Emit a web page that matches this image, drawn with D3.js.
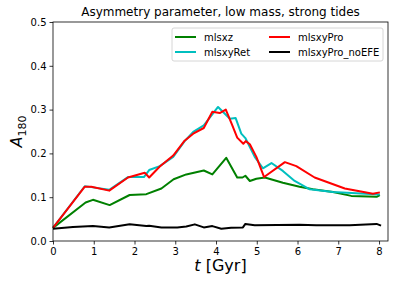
<!DOCTYPE html>
<html>
<head>
<meta charset="utf-8">
<script src="https://cdn.jsdelivr.net/npm/d3@7"></script>
<style>
  body { margin: 0; background: #fff; }
  text { font-family: "DejaVu Sans", sans-serif; fill: #000; }
</style>
</head>
<body>
<div id="chart"></div>
<script>
// values
var xzT = [0, 0.80, 0.98, 1.39, 1.88, 2.29, 2.66, 2.96, 3.27, 3.70, 3.91, 4.25, 4.52, 4.65, 4.72, 4.83, 4.99, 5.20, 5.64, 6.05, 6.38, 6.87, 7.32, 7.94, 8.02];
var xzA = [0.030, 0.088, 0.094, 0.082, 0.105, 0.107, 0.120, 0.141, 0.152, 0.161, 0.152, 0.190, 0.145, 0.145, 0.149, 0.137, 0.142, 0.145, 0.133, 0.124, 0.118, 0.112, 0.103, 0.101, 0.105];

var retT = [0, 0.78, 0.94, 1.38, 1.84, 2.23, 2.36, 2.62, 2.95, 3.23, 3.44, 3.70, 4.05, 4.34, 4.48, 4.62, 4.72, 4.95, 5.15, 5.36, 5.64, 5.93, 6.30, 6.87, 7.44, 8.02];
var retA = [0.030, 0.125, 0.123, 0.117, 0.146, 0.146, 0.162, 0.171, 0.192, 0.228, 0.249, 0.264, 0.306, 0.279, 0.281, 0.245, 0.235, 0.192, 0.166, 0.178, 0.160, 0.137, 0.118, 0.112, 0.109, 0.106];

var proT = [0, 0.78, 0.94, 1.38, 1.84, 2.25, 2.36, 2.62, 2.95, 3.23, 3.44, 3.70, 3.91, 4.09, 4.24, 4.39, 4.52, 4.67, 4.73, 4.83, 4.99, 5.18, 5.69, 5.97, 6.42, 7.16, 7.85, 8.02];
var proA = [0.030, 0.124, 0.124, 0.115, 0.145, 0.156, 0.145, 0.170, 0.195, 0.229, 0.245, 0.258, 0.295, 0.292, 0.300, 0.266, 0.236, 0.222, 0.228, 0.221, 0.192, 0.146, 0.180, 0.171, 0.145, 0.120, 0.108, 0.111];

var noEfeT = [0, 0.49, 0.98, 1.38, 1.88, 2.29, 2.36, 2.66, 3.05, 3.27, 3.48, 3.70, 3.91, 4.13, 4.37, 4.66, 4.72, 4.95, 6.05, 6.46, 7.28, 7.94, 8.05];
var noEfeA = [0.028, 0.032, 0.034, 0.031, 0.038, 0.034, 0.035, 0.031, 0.031, 0.033, 0.038, 0.031, 0.034, 0.028, 0.030, 0.031, 0.039, 0.036, 0.037, 0.036, 0.036, 0.039, 0.035];

var seriesNames = ["mlsxz", "mlsxyRet", "mlsxyPro", "mlsxyPro_noEFE"];
var seriesColors = ["#008000", "#00bfbf", "#ff0000", "#000000"];
var xTicks = [0, 1, 2, 3, 4, 5, 6, 7, 8];
var yTicks = [0.0, 0.1, 0.2, 0.3, 0.4, 0.5];

var W = 398, H = 287;
var margin = {top: 22, right: 10, bottom: 46, left: 53};
var width = W - margin.left - margin.right,
    height = H - margin.top - margin.bottom;

var svg = d3.select("#chart").append("svg")
    .attr("width", W).attr("height", H);
var g = svg.append("g")
    .attr("transform", "translate(" + margin.left + "," + margin.top + ")");

var x = d3.scaleLinear().domain([0, 8.22]).range([0, width]);
var y = d3.scaleLinear().domain([0, 0.5]).range([height, 0]);

// axes
var xAxis = g.append("g")
    .attr("transform", "translate(0," + height + ")")
    .call(d3.axisBottom(x).tickValues(xTicks).tickFormat(d3.format("d")).tickSizeOuter(0).tickSize(3.5).tickPadding(3));
var yAxis = g.append("g")
    .call(d3.axisLeft(y).tickValues(yTicks).tickFormat(d3.format(".1f")).tickSizeOuter(0).tickSize(3.5).tickPadding(3));
[xAxis, yAxis].forEach(function(a) {
  a.select(".domain").remove();
  a.selectAll("text").style("font-size", "10px").style("font-family", "DejaVu Sans").attr("fill", "#000");
  a.selectAll("line").attr("stroke", "#000").attr("stroke-width", 0.8);
});

// lines
var sets = [[xzT, xzA], [retT, retA], [proT, proA], [noEfeT, noEfeA]];
var line = d3.line().x(function(d) { return x(d[0]); }).y(function(d) { return y(d[1]); });
sets.forEach(function(s, i) {
  var pts = s[0].map(function(t, j) { return [t, s[1][j]]; });
  g.append("path")
    .datum(pts)
    .attr("d", line)
    .attr("fill", "none")
    .attr("stroke", seriesColors[i])
    .attr("stroke-width", 2)
    .attr("stroke-linejoin", "round");
});

// frame
g.append("rect")
  .attr("width", width).attr("height", height)
  .attr("fill", "none").attr("stroke", "#000").attr("stroke-width", 0.8);

// title
svg.append("text")
  .attr("x", margin.left + width / 2).attr("y", 16)
  .attr("text-anchor", "middle")
  .style("font-size", "12px")
  .text("Asymmetry parameter, low mass, strong tides");

// x label
var xl = svg.append("text")
  .attr("x", margin.left + width / 2).attr("y", 271)
  .attr("text-anchor", "middle")
  .style("font-size", "16px");
xl.append("tspan").style("font-style", "italic").text("t");
xl.append("tspan").text(" [Gyr]");

// y label
var yl = svg.append("text")
  .attr("transform", "translate(22," + (margin.top + height / 2) + ") rotate(-90)")
  .attr("text-anchor", "middle")
  .style("font-size", "16px");
yl.append("tspan").style("font-style", "italic").text("A");
yl.append("tspan").attr("dy", 4).style("font-size", "11px").text("180");

// legend
var leg = svg.append("g").attr("transform", "translate(172,28)");
leg.append("rect")
  .attr("width", 211).attr("height", 33).attr("rx", 2)
  .attr("fill", "#fff").attr("fill-opacity", 0.8)
  .attr("stroke", "#ccc").attr("stroke-width", 0.8);
var legPos = [[0, 0], [0, 1], [1, 0], [1, 1]];
seriesNames.forEach(function(name, i) {
  var cx = legPos[i][0] * 94, cy = 9 + legPos[i][1] * 15;
  leg.append("line")
    .attr("x1", cx + 3).attr("x2", cx + 24)
    .attr("y1", cy).attr("y2", cy)
    .attr("stroke", seriesColors[i]).attr("stroke-width", 2);
  leg.append("text")
    .attr("x", cx + 32).attr("y", cy + 3.5)
    .style("font-size", "10px")
    .text(name);
});
</script>
</body>
</html>
